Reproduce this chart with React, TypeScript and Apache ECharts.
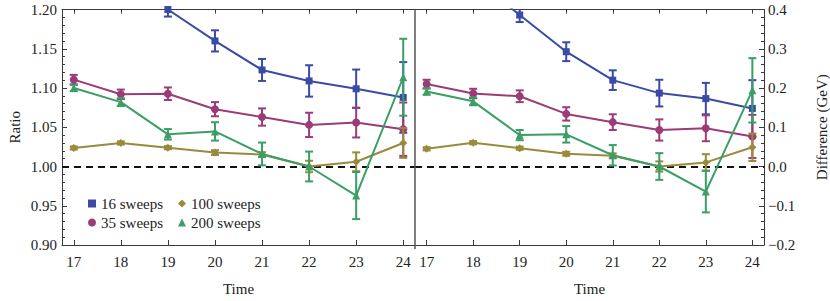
import React, { useEffect, useRef } from "react";
import * as echarts from "echarts";

const times = [17, 18, 19, 20, 21, 22, 23, 24];
const xTickValues = [17, 18, 19, 20, 21, 22, 23, 24];
const seriesNames = ["16 sweeps", "35 sweeps", "100 sweeps", "200 sweeps"];

const ratio16 = [1.3, 1.245, 1.2, 1.16, 1.123, 1.109, 1.099, 1.088];
const ratio16Err = [0.012, 0.01, 0.009, 0.0135, 0.014, 0.02, 0.0245, 0.045];
const ratio35 = [1.1107, 1.092, 1.0927, 1.073, 1.063, 1.053, 1.056, 1.0475];
const ratio35Err = [0.006, 0.006, 0.008, 0.009, 0.011, 0.0155, 0.019, 0.034];
const ratio100 = [1.0236, 1.03, 1.024, 1.0177, 1.0153, 1.0, 1.006, 1.03];
const ratio100Err = [0.002, 0.002, 0.002, 0.003, 0.003, 0.0073, 0.012, 0.019];
const ratio200 = [1.1, 1.082, 1.041, 1.0447, 1.016, 1.0, 0.963, 1.1137];
const ratio200Err = [0.004, 0.005, 0.0067, 0.0117, 0.0145, 0.019, 0.03, 0.049];

const diff16 = [0.57, 0.48, 0.386, 0.2925, 0.22, 0.187, 0.173, 0.148];
const diff16Err = [0.02, 0.02, 0.018, 0.024, 0.025, 0.034, 0.04, 0.072];
const diff35 = [0.21, 0.186, 0.179, 0.134, 0.113, 0.093, 0.0974, 0.0766];
const diff35Err = [0.011, 0.012, 0.015, 0.017, 0.02, 0.027, 0.033, 0.055];
const diff100 = [0.045, 0.0606, 0.0466, 0.0324, 0.0274, 0.0, 0.0104, 0.049];
const diff100Err = [0.004, 0.004, 0.004, 0.005, 0.006, 0.013, 0.021, 0.035];
const diff200 = [0.191, 0.166, 0.08, 0.082, 0.0286, 0.0, -0.064, 0.194];
const diff200Err = [0.008, 0.01, 0.013, 0.021, 0.026, 0.034, 0.053, 0.082];

const colors = ["#3b4aa6", "#9c3b76", "#998a3c", "#3b9e66"];
const symbols = ["rect", "circle", "diamond", "triangle"];
const symbolSizes = [7, 8, 8, 8];

const FONT = "'Liberation Serif', 'DejaVu Serif', 'Times New Roman', serif";
const TEXT = "#222";
const FRAME = "#3a3a3a";

const X_MIN = 16.75;
const X_MAX = 24.25;
const R_MIN = 0.9;
const R_MAX = 1.2;
const D_MIN = -0.2;
const D_MAX = 0.4;

function errRender(yMin: number, yMax: number, color: string) {
  return (params: any, api: any) => {
    const x = api.value(0);
    const v = api.value(1);
    const e = api.value(2);
    const lo = Math.max(v - e, yMin);
    const hi = Math.min(v + e, yMax);
    if (lo >= hi) return { type: "group", children: [] };
    const pLo = api.coord([x, lo]);
    const pHi = api.coord([x, hi]);
    const w = 4;
    const st = { stroke: color, lineWidth: 2 };
    const children: any[] = [
      { type: "line", shape: { x1: pLo[0], y1: pLo[1], x2: pHi[0], y2: pHi[1] }, style: st },
    ];
    if (v - e >= yMin)
      children.push({ type: "line", shape: { x1: pLo[0] - w, y1: pLo[1], x2: pLo[0] + w, y2: pLo[1] }, style: st });
    if (v + e <= yMax)
      children.push({ type: "line", shape: { x1: pHi[0] - w, y1: pHi[1], x2: pHi[0] + w, y2: pHi[1] }, style: st });
    return { type: "group", children };
  };
}

export default function App() {
  const ref = useRef<HTMLDivElement>(null);
  useEffect(() => {
    if (!ref.current) return;
    const chart = echarts.init(ref.current, undefined, { renderer: "svg" });

    const ratioVals = [ratio16, ratio35, ratio100, ratio200];
    const ratioErrs = [ratio16Err, ratio35Err, ratio100Err, ratio200Err];
    const diffVals = [diff16, diff35, diff100, diff200];
    const diffErrs = [diff16Err, diff35Err, diff100Err, diff200Err];

    const series: any[] = [];
    const panels = [
      { vals: ratioVals, errs: ratioErrs, xi: 0, yi: 0, yMin: R_MIN, yMax: R_MAX, ref: 1 },
      { vals: diffVals, errs: diffErrs, xi: 2, yi: 1, yMin: D_MIN, yMax: D_MAX, ref: 0 },
    ];
    panels.forEach((p) => {
      series.push({
        type: "line",
        name: "ref" + p.xi,
        xAxisIndex: p.xi,
        yAxisIndex: p.yi,
        data: [],
        silent: true,
        markLine: {
          silent: true,
          symbol: ["none", "none"],
          label: { show: false },
          lineStyle: { color: "#111", type: [7, 5], width: 2 },
          data: [{ yAxis: p.ref }],
        },
      });
      for (let s = 0; s < 4; s++) {
        series.push({
          type: "line",
          name: seriesNames[s],
          xAxisIndex: p.xi,
          yAxisIndex: p.yi,
          data: times.map((t, i) => [t, p.vals[s][i]]),
          symbol: symbols[s],
          symbolSize: symbolSizes[s],
          showAllSymbol: true,
          clip: true,
          lineStyle: { color: colors[s], width: 2 },
          itemStyle: { color: colors[s] },
          z: 3 + s,
        });
        series.push({
          type: "custom",
          name: seriesNames[s],
          xAxisIndex: p.xi,
          yAxisIndex: p.yi,
          data: times.map((t, i) => [t, p.vals[s][i], p.errs[s][i]]),
          encode: { x: 0, y: 1 },
          renderItem: errRender(p.yMin, p.yMax, colors[s]),
          z: 3 + s,
          silent: true,
        });
      }
    });

    const xBottom = (gi: number) => ({
      type: "value",
      gridIndex: gi,
      position: "bottom",
      min: X_MIN,
      max: X_MAX,
      name: "Time",
      nameLocation: "middle",
      nameGap: 36,
      nameTextStyle: { fontFamily: FONT, fontSize: 15, color: TEXT },
      axisLine: { show: true, onZero: false, lineStyle: { color: FRAME, width: 1 } },
      axisTick: { show: true, inside: true, length: 5, customValues: xTickValues, lineStyle: { color: FRAME } },
      axisLabel: {
        show: true,
        margin: 9,
        customValues: xTickValues,
        fontFamily: FONT,
        fontSize: 15,
        color: TEXT,
      },
      splitLine: { show: false },
    });
    const xTop = (gi: number) => ({
      type: "value",
      gridIndex: gi,
      position: "top",
      min: X_MIN,
      max: X_MAX,
      axisLine: { show: true, onZero: false, lineStyle: { color: FRAME, width: 1 } },
      axisTick: { show: true, inside: true, length: 4, customValues: xTickValues, lineStyle: { color: FRAME } },
      axisLabel: { show: false },
      splitLine: { show: false },
    });

    const option: any = {
      animation: false,
      backgroundColor: "#fff",
      textStyle: { fontFamily: FONT },
      grid: [
        { left: 62, top: 9.5, width: 353, height: 239.5 },
        { left: 415, top: 9.5, width: 350, height: 239.5 },
      ],
      xAxis: [xBottom(0), xTop(0), xBottom(1), xTop(1)],
      yAxis: [
        {
          type: "value",
          gridIndex: 0,
          position: "left",
          min: R_MIN,
          max: R_MAX,
          interval: 0.05,
          name: "Ratio",
          nameLocation: "middle",
          nameRotate: 90,
          nameGap: 40,
          nameTextStyle: { fontFamily: FONT, fontSize: 15, color: TEXT },
          axisLine: { show: true, onZero: false, lineStyle: { color: FRAME, width: 1 } },
          axisTick: { show: true, inside: true, length: 5, lineStyle: { color: FRAME } },
          minorTick: { show: true, splitNumber: 5, length: 3, lineStyle: { color: FRAME } },
          axisLabel: {
            margin: 5,
            fontFamily: FONT,
            fontSize: 15,
            color: TEXT,
            formatter: (v: number) => v.toFixed(2),
          },
          splitLine: { show: false },
        },
        {
          type: "value",
          gridIndex: 1,
          position: "right",
          min: D_MIN,
          max: D_MAX,
          interval: 0.1,
          name: "Difference (GeV)",
          nameLocation: "middle",
          nameRotate: 90,
          nameGap: 50,
          nameTextStyle: { fontFamily: FONT, fontSize: 15, color: TEXT },
          axisLine: { show: true, onZero: false, lineStyle: { color: FRAME, width: 1 } },
          axisTick: { show: true, inside: true, length: 5, lineStyle: { color: FRAME } },
          minorTick: { show: true, splitNumber: 5, length: 3, lineStyle: { color: FRAME } },
          axisLabel: {
            margin: 4,
            fontFamily: FONT,
            fontSize: 15,
            color: TEXT,
            formatter: (v: number) => {
              const r = Math.round(v * 10) / 10;
              return (r < 0 ? "\u2212" : "") + Math.abs(r).toFixed(1);
            },
          },
          splitLine: { show: false },
        },
      ],
      legend: [
        {
          orient: "vertical",
          left: 83,
          top: 191,
          itemGap: 4,
          itemWidth: 8,
          itemHeight: 8,
          textStyle: { fontFamily: FONT, fontSize: 15, color: TEXT, lineHeight: 15 },
          data: [
            { name: seriesNames[0], icon: "rect", itemStyle: { color: colors[0] } },
            { name: seriesNames[1], icon: "circle", itemStyle: { color: colors[1] } },
          ],
          selectedMode: false,
        },
        {
          orient: "vertical",
          left: 173,
          top: 191,
          itemGap: 4,
          itemWidth: 8,
          itemHeight: 8,
          textStyle: { fontFamily: FONT, fontSize: 15, color: TEXT, lineHeight: 15 },
          data: [
            { name: seriesNames[2], icon: "diamond", itemStyle: { color: colors[2] } },
            { name: seriesNames[3], icon: "triangle", itemStyle: { color: colors[3] } },
          ],
          selectedMode: false,
        },
      ],
      graphic: [
        {
          type: "line",
          shape: { x1: 415, y1: 9.5, x2: 415, y2: 249 },
          style: { stroke: "#555", lineWidth: 1.5 },
          z: 10,
        },
      ],
      series,
    };
    chart.setOption(option);
    return () => chart.dispose();
  }, []);
  return (
    <div
      ref={ref}
      style={{ position: "fixed", left: 0, top: 0, width: 830, height: 301, background: "#fff" }}
    />
  );
}
